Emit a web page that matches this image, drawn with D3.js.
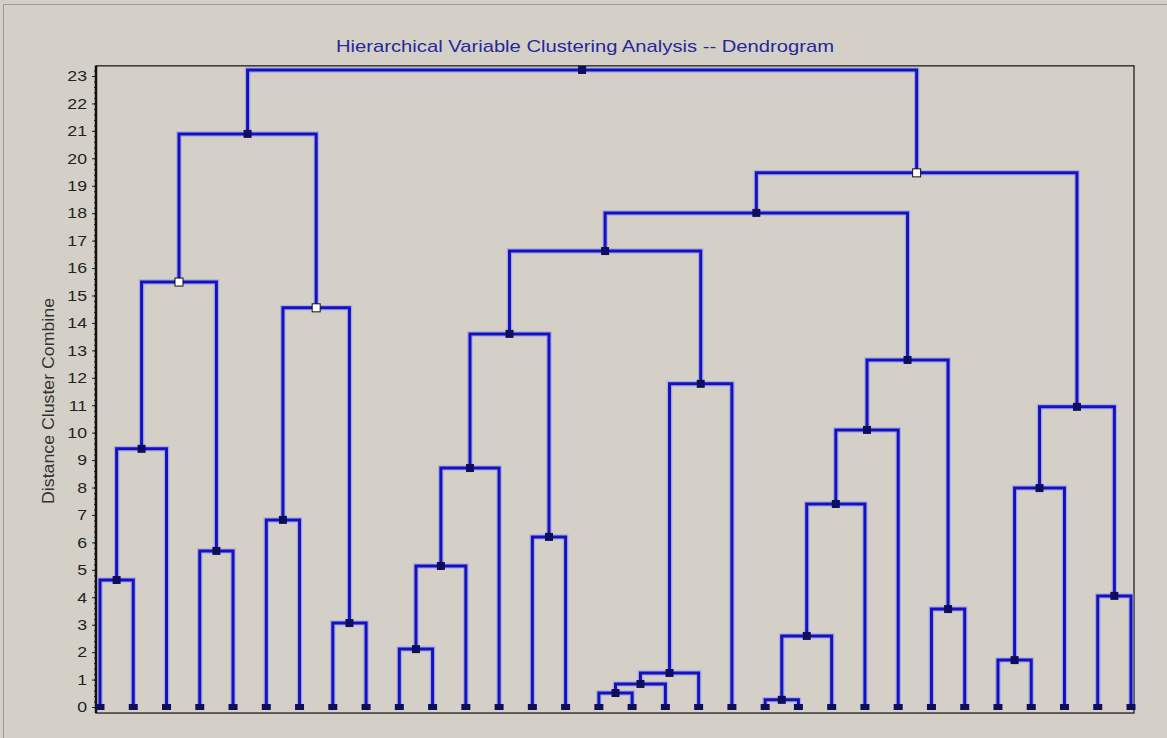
<!DOCTYPE html>
<html>
<head>
<meta charset="utf-8">
<script src="https://cdn.jsdelivr.net/npm/d3@7"></script>
<style>
  html, body { margin: 0; padding: 0; background: #d4d0c8; }
  svg { display: block; }
</style>
</head>
<body>
<svg id="chart" width="1167" height="738"></svg>
<script>
// Number of clustered variables (leaves, in display order)
const leafCount = 32;

// Merge steps, hclust style: negative = leaf (-1 is the first leaf), positive = earlier step (1-based)
const mergeA = [-1, 1, -4, 2, -6, -8, 5, 4, -10, 9, 10, -14, 11, -16, 14, 15, 16, 13, -21, 19, 20, 21, -26, 22, 18, -28, 26, -31, 27, 25, 8];
const mergeB = [-2, -3, -5, 3, -7, -9, 6, 7, -11, -12, -13, -15, 12, -17, -18, -19, -20, 17, -22, -23, -24, -25, -27, 23, 24, -29, -30, -32, 28, 29, 30];
const mergeHeight = [4.63, 9.41, 5.69, 15.49, 6.82, 3.06, 14.55, 20.89, 2.11, 5.14, 8.71, 6.20, 13.60, 0.51, 0.84, 1.24, 11.78, 16.62, 0.26, 2.59, 7.40, 10.10, 3.57, 12.65, 18.01, 1.71, 7.98, 4.05, 10.94, 19.47, 23.22];
// Steps whose node marker is drawn hollow
const hollowSteps = [4, 7, 30];

const yTicks = [0, 1, 2, 3, 4, 5, 6, 7, 8, 9, 10, 11, 12, 13, 14, 15, 16, 17, 18, 19, 20, 21, 22, 23];
const title = "Hierarchical Variable Clustering Analysis -- Dendrogram";
const yLabel = "Distance Cluster Combine";

const FONT = "Liberation Sans, Arial, sans-serif";
const svg = d3.select("#chart");
const W = 1167, H = 738;

const x = d3.scaleLinear().domain([0, leafCount - 1]).range([100, 1131]);
const y = d3.scaleLinear().domain([0, 23]).range([707, 76]);
const frame = { left: 96, right: 1134, top: y(23.37), bottom: y(-0.22) };

// panel inset edge
svg.append("path")
  .attr("d", `M3.5,${H} V4.5 H${W}`)
  .attr("fill", "none").attr("stroke", "#9c9a94").attr("stroke-width", 1);

// title (wide face)
svg.append("text")
  .attr("x", 585).attr("y", 52)
  .attr("text-anchor", "middle")
  .attr("font-family", FONT)
  .attr("font-size", 17)
  .attr("textLength", 498)
  .attr("lengthAdjust", "spacingAndGlyphs")
  .attr("fill", "#27279a")
  .text(title);

// plot frame
svg.append("rect")
  .attr("x", frame.left).attr("y", frame.top)
  .attr("width", frame.right - frame.left).attr("height", frame.bottom - frame.top)
  .attr("fill", "none").attr("stroke", "#111").attr("stroke-width", 1.2);

// y axis: minor ticks then major ticks with labels
const minorVals = d3.range(0, 23.3, 0.2);
svg.append("g")
  .attr("transform", `translate(${frame.left},0)`)
  .call(d3.axisLeft(y).tickValues(minorVals).tickSize(2).tickFormat(""))
  .call(g => g.select(".domain").remove())
  .call(g => g.selectAll("line").attr("stroke", "#222").attr("x2", -2).attr("x1", 1));

const yAxis = svg.append("g")
  .attr("transform", `translate(${frame.left},0)`)
  .call(d3.axisLeft(y).tickValues(yTicks).tickSize(4).tickPadding(5).tickFormat(d3.format("d")));
yAxis.select(".domain").remove();
yAxis.selectAll("line").attr("stroke", "#222");
yAxis.selectAll("text")
  .attr("font-family", FONT)
  .attr("font-size", 15)
  .attr("fill", "#222")
  .each(function () {
    const w = this.getComputedTextLength();
    d3.select(this).attr("textLength", w * 1.18).attr("lengthAdjust", "spacingAndGlyphs");
  });

svg.append("line")
  .attr("x1", frame.left).attr("x2", frame.left)
  .attr("y1", frame.top).attr("y2", frame.bottom)
  .attr("stroke", "#111").attr("stroke-width", 2.5);

// y axis title
svg.append("text")
  .attr("transform", `translate(54,401) rotate(-90)`)
  .attr("text-anchor", "middle")
  .attr("font-family", FONT)
  .attr("font-size", 17)
  .attr("textLength", 206)
  .attr("lengthAdjust", "spacingAndGlyphs")
  .attr("fill", "#333")
  .text(yLabel);

// build node positions from the merge table
const nodes = [];   // nodes[step-1] = {x, h}
function pos(ref) {
  if (ref < 0) return { x: x(-ref - 1), h: 0 };
  return nodes[ref - 1];
}
const links = [];
mergeA.forEach((a, i) => {
  const pa = pos(a), pb = pos(mergeB[i]);
  const h = mergeHeight[i];
  nodes.push({ x: (pa.x + pb.x) / 2, h, step: i + 1 });
  links.push(`M${pa.x},${y(pa.h)} V${y(h)} H${pb.x} V${y(pb.h)}`);
});

const gLinks = svg.append("g").attr("fill", "none").attr("stroke-linejoin", "miter");
gLinks.selectAll("path.halo").data(links).join("path")
  .attr("class", "halo")
  .attr("d", d => d)
  .attr("stroke", "#8c8cf0").attr("stroke-opacity", 0.55).attr("stroke-width", 5.5);
gLinks.selectAll("path.core").data(links).join("path")
  .attr("class", "core")
  .attr("d", d => d)
  .attr("stroke", "#1212c0").attr("stroke-width", 3);

// leaf markers
svg.append("g").selectAll("rect").data(d3.range(leafCount)).join("rect")
  .attr("x", d => x(d) - 4.5).attr("y", y(0) - 3)
  .attr("width", 9).attr("height", 6)
  .attr("fill", "#0e0e5c");

// node markers
svg.append("g").selectAll("rect").data(nodes).join("rect")
  .attr("x", d => d.x - 4).attr("y", d => y(d.h) - 4)
  .attr("width", 8).attr("height", 8)
  .attr("fill", d => hollowSteps.includes(d.step) ? "#ffffff" : "#0e0e5c")
  .attr("stroke", d => hollowSteps.includes(d.step) ? "#111" : "none")
  .attr("stroke-width", 1);
</script>
</body>
</html>
